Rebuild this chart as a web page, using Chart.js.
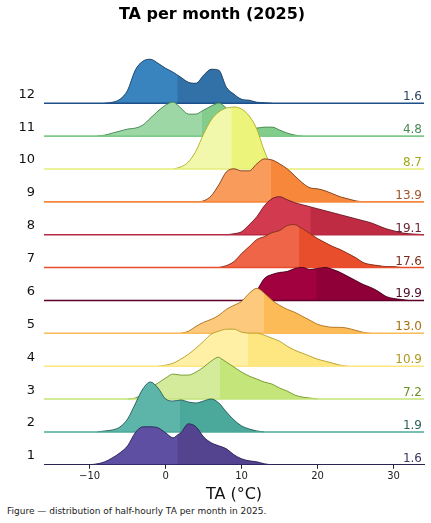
<!DOCTYPE html>
<html>
<head>
<meta charset="utf-8">
<script src="https://cdn.jsdelivr.net/npm/chart.js@4.4.1/dist/chart.umd.min.js"></script>
<style>
  body { margin: 0; background: #fff; width: 431px; height: 523px; overflow: hidden; position: relative; font-family: "DejaVu Sans", sans-serif; }
  #wrap { position: absolute; left: 0; top: 0; width: 431px; height: 504px; }
  #cap { position: absolute; left: 7px; top: 505px; font-size: 9px; line-height: 12px; color: #222; white-space: nowrap; }
</style>
</head>
<body>
<div id="wrap"><canvas id="ridge" width="431" height="504"></canvas></div>
<div id="cap">Figure — distribution of half-hourly TA per month in 2025.</div>
<script>
// months, bottom to top
const months = [1, 2, 3, 4, 5, 6, 7, 8, 9, 10, 11, 12];
const medians = [1.6, 1.9, 7.2, 10.9, 13.0, 19.9, 17.6, 19.1, 13.9, 8.7, 4.8, 1.6];
const xTicks = [-10, 0, 10, 20, 30];

const densStart = [-10, -9, -5, -1, 2, 10, 7, 8, 4, 1, -9, -8];
const dens1 = [0, 1, 3, 7, 12, 19, 32, 38, 38, 37, 32, 27, 32, 41, 38, 28, 22, 19, 16, 10, 6, 4, 3, 1, 0];
const dens2 = [0, 1, 2, 5, 13, 28, 43, 50, 44, 33, 31, 32, 30, 29, 31, 33, 29, 20, 12, 6, 3, 1, 0];
const dens3 = [0, 1, 5, 11, 16, 21, 25, 24, 24, 27, 32, 38, 42, 37, 32, 27, 23, 20, 17, 15, 11, 8, 4, 2, 1, 0];
const dens4 = [0, 1, 3, 7, 12, 18, 25, 32, 35, 37, 37, 34, 33, 33, 31, 28, 25, 20, 16, 13, 10, 7, 5, 3, 1, 0];
const dens5 = [0, 2, 7, 11, 14, 18, 24, 28, 32, 40, 45, 40, 33, 28, 24, 21, 17, 13, 9, 7, 6, 6, 5, 3, 1, 0];
const dens6 = [0, 2, 10, 22, 26, 28, 29, 32, 33, 31, 32, 33, 31, 28, 24, 20, 16, 13, 9, 4, 2, 1, 0];
const dens7 = [0, 2, 6, 14, 21, 28, 31, 35, 37, 42, 43, 39, 34, 29, 25, 21, 18, 14, 10, 5, 3, 2, 1, 1, 0];
const dens8 = [0, 1, 3, 10, 18, 29, 36, 38, 35, 32, 30, 28, 26, 24, 22, 20, 18, 16, 14, 12, 9, 6, 4, 2, 1, 0.5, 0];
const dens9 = [0, 1, 6, 17, 30, 33, 31, 31, 38, 43, 42, 38, 33, 26, 19, 14, 13, 11, 8, 5, 3, 1, 0];
const dens10 = [0, 2, 7, 18, 35, 49, 57, 61, 62, 60, 53, 40, 18, 3, 0];
const dens11 = [0, 1, 3, 5, 7, 8, 11, 18, 25, 31, 34, 28, 22, 22, 26, 30, 33, 28, 20, 13, 9, 8, 9, 9, 6, 3, 1, 0];
const dens12 = [0, 1, 4, 13, 33, 42, 44, 40, 35, 31, 26, 21, 20, 28, 34, 33, 16, 9, 4, 3, 1, 0.5, 0];
const densities = [dens1, dens2, dens3, dens4, dens5, dens6, dens7, dens8, dens9, dens10, dens11, dens12];

const xMin = -16, xMax = 34;
const ridgeScale = 1 / 32.9;

const lightCols = ['#5f4fa2', '#5db5a9', '#d4eb9b', '#fff0a6', '#fdc97c', '#a1013f', '#ef6548', '#d13a4f', '#f99b5a', '#f2f8ab', '#9dd7a5', '#3984bf'];
const darkCols = ['#544490', '#4aa99b', '#c3e579', '#fee680', '#fdbb57', '#8f0039', '#e84d2c', '#c02b44', '#f6873b', '#ecf47c', '#82cc8c', '#3171a8'];
const edgeCols = ['#2a2452', '#22504a', '#6a8a22', '#a8921e', '#a06a1c', '#3e0018', '#6e2a1a', '#5e1c24', '#6e3618', '#a4a414', '#3c7a46', '#1b3a58'];
const baseCols = ['#2e2660', '#4aa99b', '#c3e579', '#fee680', '#fdbb57', '#5e0028', '#e84d2c', '#b82a42', '#f6873b', '#e4ee78', '#7ccb88', '#1d4f8a'];
const textCols = ['#3a365e', '#2f625c', '#6a9022', '#b0981e', '#a8700f', '#4c0a28', '#7a3020', '#6c2434', '#a0542a', '#a0a818', '#4a8a55', '#2e4562'];

Chart.defaults.font.family = "'DejaVu Sans', sans-serif";
Chart.defaults.color = '#222';

function ridgePoints(i) {
  const d = densities[i], x0 = densStart[i], med = medians[i];
  const pts = [];
  for (let k = 0; k < d.length; k++) {
    const x = x0 + k;
    if (k > 0 && x > med && x - 1 < med) {
      // curve height at the median, read between the two neighbours
      const t = med - (x - 1);
      pts.push({ x: med, y: i + (d[k - 1] + (d[k] - d[k - 1]) * t) * ridgeScale });
    }
    pts.push({ x: x, y: i + d[k] * ridgeScale });
  }
  return pts;
}

// order matters: dataset 0 is painted last, so month 1 ends up in front
const datasets = [];
months.forEach((m, i) => {
  const pts = ridgePoints(i);
  datasets.push({
    label: 'base ' + m,
    data: [{ x: xMin, y: i }, { x: xMax, y: i }],
    borderColor: baseCols[i],
    borderWidth: 1.6,
    pointRadius: 0,
    fill: false
  });
  datasets.push({
    label: 'month ' + m,
    data: pts,
    borderColor: edgeCols[i],
    borderWidth: 0.8,
    pointRadius: 0,
    cubicInterpolationMode: 'monotone',
    backgroundColor: darkCols[i],
    fill: { value: i },
    segment: {
      backgroundColor: c => pts[c.p0DataIndex].x < medians[i] ? lightCols[i] : darkCols[i]
    }
  });
  // plain dark fill underneath so the split at the median has no seam
  datasets.push({
    label: 'under ' + m,
    data: pts,
    borderColor: 'rgba(0,0,0,0)',
    borderWidth: 0,
    pointRadius: 0,
    cubicInterpolationMode: 'monotone',
    backgroundColor: darkCols[i],
    fill: { value: i }
  });
});

const medianLabels = {
  id: 'medianLabels',
  afterDatasetsDraw(chart) {
    const { ctx, scales: { x, y } } = chart;
    ctx.save();
    ctx.font = "12px 'DejaVu Sans'";
    ctx.textAlign = 'right';
    ctx.textBaseline = 'alphabetic';
    months.forEach((m, i) => {
      ctx.fillStyle = textCols[i];
      ctx.fillText(medians[i].toFixed(1), x.right - 2, y.getPixelForValue(i) - 3);
    });
    ctx.restore();
  }
};

new Chart(document.getElementById('ridge'), {
  type: 'line',
  data: { datasets: datasets },
  options: {
    responsive: false,
    animation: false,
    layout: { padding: { left: 0, right: 7, top: 0, bottom: 0 } },
    plugins: {
      legend: { display: false },
      tooltip: { enabled: false },
      title: {
        display: true,
        text: 'TA per month (2025)',
        color: '#000',
        font: { size: 16, weight: 'bold' },
        padding: { top: 5, bottom: 9 }
      }
    },
    scales: {
      x: {
        type: 'linear',
        min: xMin,
        max: xMax,
        afterBuildTicks: s => { s.ticks = xTicks.map(v => ({ value: v })); },
        ticks: {
          font: { size: 10 },
          color: '#222',
          padding: 2,
          maxRotation: 0,
          callback: v => v < 0 ? '\u2212' + Math.abs(v) : String(v)
        },
        grid: { display: true, drawOnChartArea: false, drawTicks: true, tickLength: 4, color: '#222' },
        border: { display: true, color: '#222', width: 1 },
        title: { display: true, text: 'TA (°C)', color: '#111', font: { size: 16 }, padding: { top: 0, bottom: 0 } }
      },
      y: {
        type: 'linear',
        min: 0,
        max: 13.13,
        afterBuildTicks: s => { s.ticks = months.map((m, i) => ({ value: i + 0.27 })); },
        afterFit: s => { s.width = 44; },
        ticks: { font: { size: 13 }, color: '#111', padding: 9, callback: (v, idx) => String(months[idx]) },
        grid: { display: false, drawTicks: false },
        border: { display: false }
      }
    }
  },
  plugins: [medianLabels]
});
</script>
</body>
</html>
